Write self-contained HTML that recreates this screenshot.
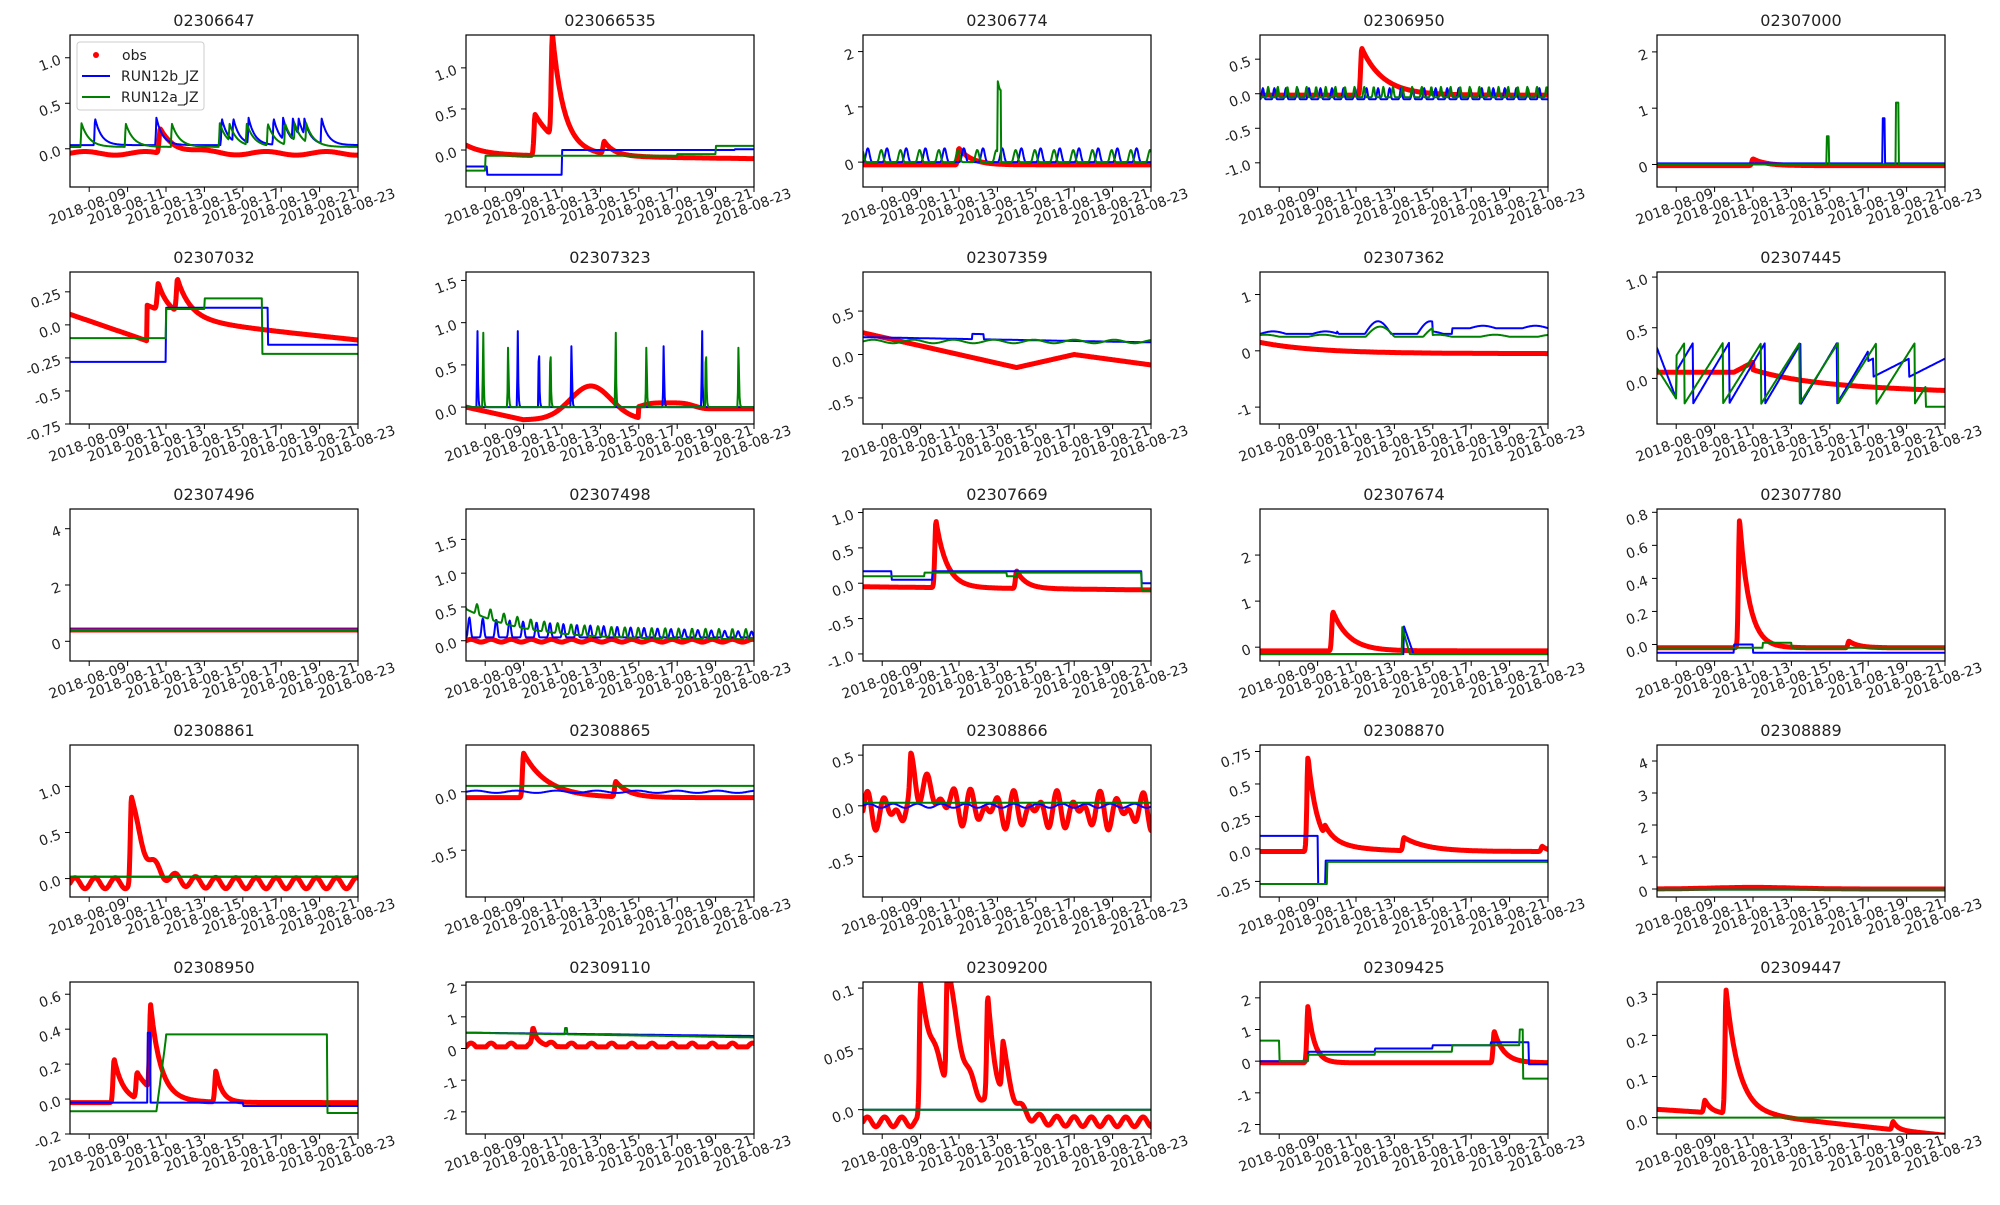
<!DOCTYPE html>
<html><head><meta charset="utf-8"><style>
body{margin:0;background:#fff;width:2000px;height:1200px;overflow:hidden}
svg text{font-family:"DejaVu Sans","Liberation Sans",sans-serif;fill:#222}
</style></head><body>
<svg id="s" width="2000" height="1200" xmlns="http://www.w3.org/2000/svg"></svg>
<script>
const S=document.getElementById('s');let h='';
const L=[70,466,863,1260,1657],T=[35,272,509,745,982],W=288,H=152;
function pk(t,c,a,k){return t<c?a*Math.exp(-Math.pow((t-c)/0.08,2)):a*Math.exp(-(t-c)*k);}
function step(t,arr){let v=arr[0][1];for(const [x,y] of arr){if(t>=x)v=y;}return v;}
function spikes(t,times,a,base,k){let v=base;for(const c of times){if(t>=c-0.05&&t<c+3){v=Math.max(v,base+(t<c?a*(t-c+0.05)/0.05:a*Math.exp(-(t-c)*k)));}}return v;}
function osc(t,base,a,p){return base+a*Math.max(0,Math.sin(t*2*Math.PI/p))**3;}
const P=[
["02306647",-0.42,1.25,[0,0.5,1.0],
 t=>-0.05+pk(t,4.7,0.27,1.2)+0.02*Math.sin(t*2),
 t=>spikes(t,[1.3,4.5,7.9,8.5,9.3,10.6,11.1,11.6,11.9,12.2,13.1],0.3,0.04,3),
 t=>spikes(t,[0.6,2.9,5.3,7.8,8.3,9.2,10.3,11.2,11.7,12.3],0.26,0.02,2.5),1,"0.0"],
["023066535",-0.45,1.4,[0,0.5,1.0],
 t=>0.12*Math.exp(-t)-0.06+pk(t,3.6,0.5,0.8)+pk(t,4.5,1.25,1.8)+pk(t,7.2,0.15,2)-0.003*t,
 t=>step(t,[[0,-0.2],[1.1,-0.3],[5,0.0],[13.9,0.0],[14,0.01]]),
 t=>step(t,[[0,-0.25],[1,-0.07],[11,-0.05],[13,0.05]])],
["02306774",-0.45,2.3,[0,1,2],
 t=>-0.05+pk(t,5,0.3,1.5),
 t=>osc(t,0,0.25,1),
 t=>osc(t+0.3,0,0.22,1)+(Math.abs(t-7.1)<0.08?1.3:0)],
["02306950",-1.35,0.85,[-1.0,-0.5,0.0,0.5],
 t=>-0.02+pk(t,5.3,0.68,0.9),
 t=>osc(t,-0.08,0.16,0.6),
 t=>osc(t+0.2,-0.05,0.15,0.5)],
["02307000",-0.4,2.3,[0,1,2],
 t=>-0.02+pk(t,5,0.12,1.5),
 t=>0.02+(Math.abs(t-11.8)<0.07?0.8:0),
 t=>0.0+(Math.abs(t-8.9)<0.07?0.5:0)+(Math.abs(t-12.5)<0.07?1.1:0)],
["02307032",-0.75,0.4,[-0.75,-0.5,-0.25,0.0,0.25],
 t=>t<4?0.08-0.05*t:(0.05+pk(t,4.6,0.2,2)+pk(t,5.6,0.25,1.5)+0.1*Math.exp(-(t-4)/2)-0.015*(t-4)),
 t=>step(t,[[0,-0.28],[5,0.13],[10.3,-0.15]]),
 t=>step(t,[[0,-0.1],[5,0.12],[7,0.2],[10,-0.22]])],
["02307323",-0.2,1.6,[0,0.5,1.0,1.5],
 t=>t<3?-0.05*t:(t<9?-0.15+0.4*Math.exp(-Math.pow((t-6.5)/1.5,2)):(0.07*Math.exp(-Math.pow((t-10.5)/1.5,4))-0.02)),
 t=>spikes(t,[0.6,2.7,3.8,5.5,10.3,12.3],0.9,0,40),
 t=>spikes(t,[0.9,2.2,4.4,7.8,9.4,12.5,14.2],0.88,0,40)],
["02307359",-0.8,0.95,[-0.5,0.0,0.5],
 t=>t<8?0.25-0.05*t:(t<11?-0.15+0.05*(t-8):0.0-0.03*(t-11)),
 t=>0.2-0.004*t+(Math.abs(t-6)<0.3?0.06:0),
 t=>0.15+0.02*Math.sin(t*3)],
["02307362",-1.3,1.4,[-1,0,1],
 t=>0.2*Math.exp(-t/3)-0.05,
 t=>0.3+0.15*Math.max(0,Math.sin(t*2.3))*(t>4&&t<9?1.5:0.3)+(t>10?0.1:0),
 t=>0.25+0.12*Math.max(0,Math.sin(t*2.1+1))*(t>4&&t<9?1.5:0.3)],
["02307445",-0.45,1.05,[0,0.5,1.0],
 t=>t<4?0.06:(t<5?0.06+0.1*(t-4):0.16*Math.exp(-(t-5)/3)-0.05-0.005*t),
 t=>t<1?0.3-0.5*t:(((t*0.8)%1.5)/1.5*0.6-0.25+(t>11?0.3:0))*(t>11?0.3:1),
 t=>t<1?0.1-0.3*t:(((t*0.7+0.4)%1.4)/1.4*0.6-0.25)*(t>14?0:1)+(t>14?-0.28:0)],
["02307496",-0.7,4.7,[0,2,4],t=>0.4,t=>0.42,t=>0.4],
["02307498",-0.3,1.95,[0,0.5,1.0,1.5],
 t=>0.0+0.02*Math.sin(t*6),
 t=>osc(t,0.05,0.3*Math.exp(-t/12),0.7),
 t=>0.45*Math.exp(-t/3)+osc(t+0.3,0.02,0.15,0.7)],
["02307669",-1.1,1.05,[-1.0,-0.5,0.0,0.5,1.0],
 t=>-0.05+pk(t,3.8,0.95,1.8)+pk(t,8,0.25,2)-0.003*t,
 t=>step(t,[[0,0.17],[1.5,0.05],[3.6,0.17],[14.5,0.0]]),
 t=>step(t,[[0,0.1],[3.2,0.15],[7.5,0.1],[8,0.15],[14.5,-0.1]])],
["02307674",-0.3,3.0,[0,1,2],
 t=>-0.08+pk(t,3.8,0.85,1.2),
 t=>-0.15+(t>7.5&&t<8?0.6*(1-(t-7.5)*2):0),
 t=>-0.15+(t>7.4&&t<7.8?0.6*(1-(t-7.4)*2.5):0)],
["02307780",-0.1,0.82,[0,0.2,0.4,0.6,0.8],
 t=>-0.02+pk(t,4.3,0.78,2)+pk(t,10,0.04,2),
 t=>-0.05+(t>4&&t<5?0.05:0),
 t=>-0.02+(t>5.5&&t<7?0.03:0)],
["02308861",-0.2,1.45,[0.0,0.5,1.0],
 t=>-0.05+0.06*Math.sin(t*6)+pk(t,3.2,0.92,1.3),
 t=>0.02,t=>0.02],
["02308865",-0.9,0.4,[-0.5,0.0],
 t=>-0.05+pk(t,3,0.38,0.8)+pk(t,7.8,0.13,1.5),
 t=>0.0+0.01*Math.sin(t*3),t=>0.05],
["02308866",-0.9,0.6,[-0.5,0.0,0.5],
 t=>0.2*Math.sin(t*7)*Math.sin(t*1.3+1)+pk(t,2.5,0.4,0.8)-0.05,
 t=>0.0+0.02*Math.sin(t*5),t=>0.03],
["02308870",-0.37,0.8,[-0.25,0.0,0.25,0.5,0.75],
 t=>-0.02+pk(t,2.5,0.73,2)+pk(t,3.4,0.08,0.6)+pk(t,7.5,0.1,0.8)+pk(t,14.7,0.04,3),
 t=>step(t,[[0,0.1],[3,-0.27],[3.4,-0.09]]),
 t=>step(t,[[0,-0.27],[3.5,-0.1]])],
["02308889",-0.25,4.5,[0,1,2,3,4],t=>0.0+0.05*Math.exp(-Math.pow((t-5)/3,2)),t=>-0.02,t=>-0.02],
["02308950",-0.2,0.67,[-0.2,0.0,0.2,0.4,0.6],
 t=>-0.02+pk(t,2.3,0.25,2)+pk(t,3.5,0.15,1)+pk(t,4.2,0.48,2)+pk(t,7.6,0.18,3),
 t=>-0.02+(Math.abs(t-4.1)<0.07?0.4:0)+(t>9?-0.02:0),
 t=>t<4.5?-0.07:(t<5?-0.07+(t-4.5)*0.84:(t<13.4?0.37:-0.08))],
["02309110",-2.7,2.1,[-2,-1,0,1,2],
 t=>0.05+0.12*Math.max(0,Math.sin(t*6))+pk(t,3.5,0.5,3),
 t=>0.5-0.007*t,t=>0.5-0.01*t+(Math.abs(t-5.2)<0.05?0.2:0)],
["02309200",-0.02,0.105,[0,0.05,0.1],
 t=>-0.01+0.004*Math.sin(t*7)+pk(t,3,0.11,0.8)+pk(t,4.4,0.1,1.2)+pk(t,6.5,0.085,2)+pk(t,7.3,0.04,2),
 t=>0,t=>0],
["02309425",-2.3,2.5,[-2,-1,0,1,2],
 t=>-0.05+pk(t,2.5,1.8,3)+pk(t,12.2,1.0,2),
 t=>step(t,[[0,0],[2.5,0.3],[6,0.4],[9,0.5],[12,0.6],[14,-0.1]]),
 t=>step(t,[[0,0.65],[1,0],[2.5,0.2],[6,0.3],[10,0.5],[13.5,1.0],[13.7,-0.55]])],
["02309447",-0.04,0.33,[0,0.1,0.2,0.3],
 t=>0.02-0.003*t+pk(t,2.5,0.03,3)+pk(t,3.6,0.3,1.5)-(t>6?0.002*(t-6):0)+pk(t,12.3,0.02,4),
 t=>null,t=>0]
];
const dates=["2018-08-09","2018-08-11","2018-08-13","2018-08-15","2018-08-17","2018-08-19","2018-08-21","2018-08-23"];
P.forEach((p,i)=>{
 const x0=L[i%5],y0=T[Math.floor(i/5)];
 const [name,lo,hi,ticks,fo,fb,fg,leg]=p;
 const X=t=>x0+t*W/15, Y=v=>y0+H-(v-lo)/(hi-lo)*H;
 h+=`<text x="${x0+W/2}" y="${y0-9}" font-size="16" text-anchor="middle">${name}</text>`;
 h+=`<svg x="${x0}" y="${y0}" width="${W}" height="${H}" overflow="hidden"><g transform="translate(${-x0},${-y0})">`;
 const line=(f,c,w)=>{let pts=[];for(let t=0;t<=15;t+=0.03){const v=f(t);if(v===null)return;pts.push(X(t).toFixed(1)+','+Y(v).toFixed(1));}h+=`<polyline points="${pts.join(' ')}" fill="none" stroke="${c}" stroke-width="${w}" stroke-linejoin="round" stroke-linecap="round"/>`;};
 line(fo,'#ff0000',5);line(fb,'#0000ff',2);line(fg,'#008000',2);
 h+=`</g></svg>`;
 h+=`<rect x="${x0}" y="${y0}" width="${W}" height="${H}" fill="none" stroke="#000" stroke-width="1.2"/>`;
 ticks.forEach(v=>{const y=Y(v);h+=`<line x1="${x0-5}" x2="${x0}" y1="${y}" y2="${y}" stroke="#000"/>`;
  h+=`<text font-size="14" text-anchor="end" transform="translate(${x0-8},${y+6}) rotate(-20)">${p[8]&&v===0?'0.0':(Number.isInteger(v)&&ticks.some(q=>!Number.isInteger(q))?v.toFixed(1):v)}</text>`;});
 dates.forEach((d,k)=>{const x=X(1+2*k);h+=`<line x1="${x}" x2="${x}" y1="${y0+H}" y2="${y0+H+5}" stroke="#000"/>`;
  h+=`<text font-size="14" text-anchor="middle" transform="translate(${x},${y0+H+24}) rotate(-20)">${d}</text>`;});
 if(leg){h+=`<rect x="${x0+7}" y="${y0+7}" width="127" height="68" fill="#fff" stroke="#ccc" rx="3"/>`;
  h+=`<circle cx="${x0+26}" cy="${y0+20}" r="3" fill="#f00"/><text x="${x0+52}" y="${y0+25}" font-size="14">obs</text>`;
  h+=`<line x1="${x0+12}" x2="${x0+40}" y1="${y0+41}" y2="${y0+41}" stroke="#00f" stroke-width="2"/><text x="${x0+51}" y="${y0+46}" font-size="14">RUN12b_JZ</text>`;
  h+=`<line x1="${x0+12}" x2="${x0+40}" y1="${y0+62}" y2="${y0+62}" stroke="#008000" stroke-width="2"/><text x="${x0+51}" y="${y0+67}" font-size="14">RUN12a_JZ</text>`;}
});
S.innerHTML=h;
</script>
</body></html>
